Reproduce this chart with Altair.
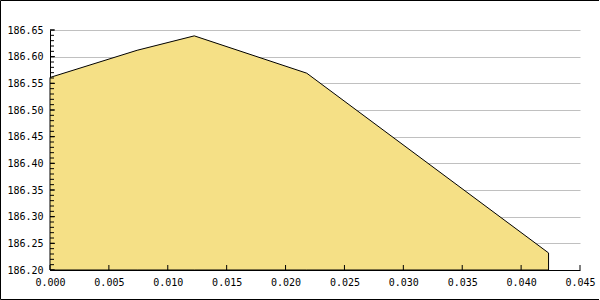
import altair as alt
import pandas as pd

xs = [0.0, 0.0074, 0.01225, 0.0218, 0.04233]
ys = [186.561, 186.612, 186.639, 186.569, 186.232]

y_major = [186.20, 186.25, 186.30, 186.35, 186.40, 186.45, 186.50, 186.55, 186.60, 186.65]
y_minor = [round(186.20 + 0.01 * i, 2) for i in range(46)]
x_major = [0.0, 0.005, 0.01, 0.015, 0.02, 0.025, 0.03, 0.035, 0.04, 0.045]

df = pd.DataFrame({"x": xs, "y": ys})
FONT = "DejaVu Sans Mono"

xscale = alt.Scale(domain=[0, 0.045], nice=False, zero=False)
yscale = alt.Scale(domain=[186.2, 186.65], nice=False, zero=False)

xaxis = alt.Axis(
    values=x_major, format=".3f", title=None, grid=False, ticks=False,
    domainColor="black", labelFont=FONT, labelFontSize=10, labelColor="black",
    labelPadding=7, labelFlush=False, labelOverlap=False)
yaxis = alt.Axis(
    values=y_major, format=".2f", title=None, grid=True, gridColor="#C0C0C0",
    ticks=False, domainColor="black", labelFont=FONT, labelFontSize=10,
    labelColor="black", labelPadding=7, labelOverlap=False, labelFlush=False)

area = alt.Chart(df).mark_area(
    color="#F5E086", stroke="black", strokeWidth=1, opacity=1
).encode(
    x=alt.X("x:Q", scale=xscale, axis=xaxis),
    y=alt.Y("y:Q", scale=yscale, axis=yaxis),
    y2=alt.datum(186.2),
)

ymin_df = pd.DataFrame({"v": y_minor})
ymaj_df = pd.DataFrame({"v": y_major})
xmaj_df = pd.DataFrame({"v": x_major})

yminor_ticks = alt.Chart(ymin_df).mark_rule(color="black", strokeWidth=1).encode(
    y=alt.Y("v:Q", scale=yscale, axis=yaxis), x=alt.value(0), x2=alt.value(4))
ymajor_ticks = alt.Chart(ymaj_df).mark_rule(color="black", strokeWidth=1).encode(
    y=alt.Y("v:Q", scale=yscale, axis=yaxis), x=alt.value(0), x2=alt.value(5))
xmajor_ticks = alt.Chart(xmaj_df).mark_rule(color="black", strokeWidth=1).encode(
    x=alt.X("v:Q", scale=xscale, axis=xaxis), y=alt.value(240), y2=alt.value(235))

frame = alt.Chart(pd.DataFrame({"a": [0]})).mark_rect(
    fill=None, stroke="black", strokeWidth=1, clip=False
).encode(x=alt.value(-49.5), x2=alt.value(549.5), y=alt.value(-29.5), y2=alt.value(269.5))

chart = alt.layer(area, yminor_ticks, ymajor_ticks, xmajor_ticks, frame).properties(
    width=530, height=240,
    padding={"left": 50, "top": 30, "right": 19, "bottom": 30},
    autosize=alt.AutoSizeParams(type="none"),
    background="white",
).configure_view(stroke=None)

chart.save("out.html", embed_options={"renderer": "svg", "actions": False})
